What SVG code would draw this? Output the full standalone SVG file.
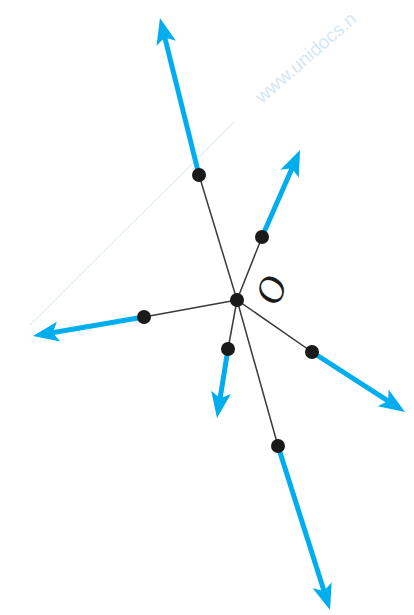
<svg xmlns="http://www.w3.org/2000/svg" width="414" height="615" viewBox="0 0 414 615">
<style>
.wm{fill:#d6e8f6;font-family:"Liberation Sans",sans-serif;font-size:19px}
.wml{stroke:#cfe3f5;stroke-width:1;fill:none}
.rod{stroke:#3a3a3a;stroke-width:1.5;fill:none}
.vec{stroke:#00aeef;stroke-width:5;fill:none;marker-end:url(#ah)}
.dot{fill:#1a1a1a}
.lbl{font-family:"Liberation Serif",serif;font-style:italic;font-size:38px;fill:#1a1a1a}
</style>
<defs>
<marker id="ah" markerUnits="userSpaceOnUse" markerWidth="26" markerHeight="20" refX="8" refY="10" orient="auto" overflow="visible">
<path d="M0,0 L26,10 L0,20 L6,10 z" fill="#00aeef"/>
</marker>
</defs>
<rect width="414" height="615" fill="#fff"/>
<g id="watermark">
<line class="wml" x1="234" y1="122" x2="30" y2="325"/>
<text class="wm" transform="translate(262,104) rotate(-41)">www.unidocs.n</text>
</g>
<g id="connectors">
<line class="rod" x1="237" y1="300" x2="199" y2="175"/>
<line class="rod" x1="237" y1="300" x2="262" y2="237"/>
<line class="rod" x1="237" y1="300" x2="144" y2="317"/>
<line class="rod" x1="237" y1="300" x2="228" y2="349"/>
<line class="rod" x1="237" y1="300" x2="312" y2="352"/>
<line class="rod" x1="237" y1="300" x2="278" y2="446"/>
<line class="vec" x1="199" y1="175" x2="164.3" y2="35.5"/>
<line class="vec" x1="262" y1="237" x2="292.8" y2="166.5"/>
<line class="vec" x1="144" y1="317" x2="50.7" y2="333"/>
<line class="vec" x1="228" y1="349" x2="219.8" y2="400.2"/>
<line class="vec" x1="312" y1="352" x2="389.9" y2="402.2"/>
<line class="vec" x1="278" y1="446" x2="324.6" y2="592.8"/>
</g>
<g id="O"><circle class="dot" cx="237" cy="300" r="7"/><text class="lbl" transform="translate(271,290) rotate(-72)" text-anchor="middle" dy="13">O</text></g>
<g id="p1"><circle class="dot" cx="199" cy="175" r="7"/></g>
<g id="p2"><circle class="dot" cx="262" cy="237" r="7"/></g>
<g id="p3"><circle class="dot" cx="144" cy="317" r="7"/></g>
<g id="p4"><circle class="dot" cx="228" cy="349" r="7"/></g>
<g id="p5"><circle class="dot" cx="312" cy="352" r="7"/></g>
<g id="p6"><circle class="dot" cx="278" cy="446" r="7"/></g>
</svg>
